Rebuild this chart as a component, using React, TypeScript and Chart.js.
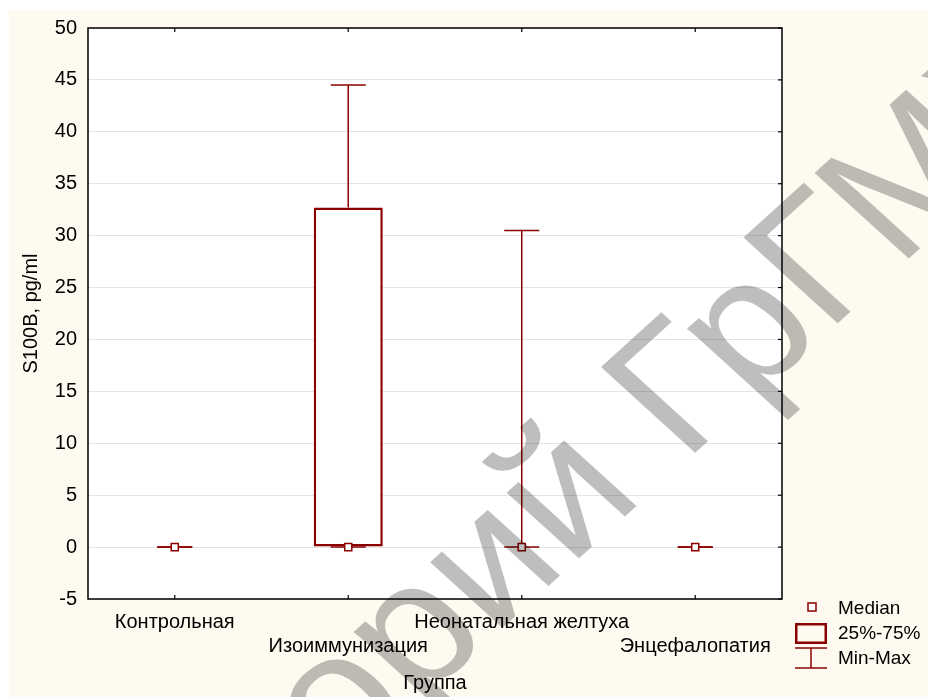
import { useEffect, useRef } from 'react';
import { Chart, registerables } from 'chart.js';

Chart.register(...registerables);

const categories = ['Контрольная', 'Изоиммунизация', 'Неонатальная желтуха', 'Энцефалопатия'];
const medians = [0, 0, 0, 0];
const q1 = [0, 0, 0, 0];
const q3 = [0, 32.7, 0, 0];
const mins = [0, 0, 0, 0];
const maxs = [0, 44.5, 30.5, 0];
const legendLabels = ['Median', '25%-75%', 'Min-Max'];
const yAxisTitle = 'S100B, pg/ml';
const xAxisTitle = 'Группа';
const watermarkHead = 'Репозиторий ';
const watermarkTail = 'ГрГМУ';

const RED = '#8B0000';
const CREAM = '#FFFAF0';
const FONT = '"Liberation Sans", Arial, sans-serif';

const W = 920;
const H = 689;

function line(ctx: CanvasRenderingContext2D, x1: number, y1: number, x2: number, y2: number) {
  ctx.beginPath();
  ctx.moveTo(x1, y1);
  ctx.lineTo(x2, y2);
  ctx.stroke();
}

const decorPlugin = {
  id: 'decor',
  beforeDraw(chart: any) {
    const { ctx, chartArea: a } = chart;
    ctx.save();
    ctx.fillStyle = '#ffffff';
    ctx.fillRect(0, 0, W, H);
    ctx.fillStyle = CREAM;
    ctx.fillRect(1, 2, W - 1, H - 2);
    ctx.fillStyle = '#ffffff';
    ctx.fillRect(a.left, a.top, a.right - a.left, a.bottom - a.top);
    ctx.restore();
  },
  beforeDatasetsDraw(chart: any) {
    const { ctx } = chart;
    const xs = chart.scales.x;
    const ys = chart.scales.y;
    const capHalf = 17.5;
    ctx.save();
    ctx.strokeStyle = RED;
    ctx.lineWidth = 1.5;
    categories.forEach((_, i) => {
      const px = xs.getPixelForValue(i);
      const yMin = ys.getPixelForValue(mins[i]);
      const yMax = ys.getPixelForValue(maxs[i]);
      const yQ1 = ys.getPixelForValue(q1[i]);
      const yQ3 = ys.getPixelForValue(q3[i]);
      if (yQ3 !== yMax) line(ctx, px, yQ3, px, yMax);
      if (yQ1 !== yMin) line(ctx, px, yMin, px, yQ1);
      line(ctx, px - capHalf, yMin, px + capHalf, yMin);
      line(ctx, px - capHalf, yMax, px + capHalf, yMax);
    });
    ctx.restore();
  },
  afterDraw(chart: any) {
    const { ctx, chartArea: a } = chart;
    const xs = chart.scales.x;
    const ys = chart.scales.y;
    ctx.save();
    // frame
    ctx.strokeStyle = '#000000';
    ctx.lineWidth = 1.5;
    ctx.strokeRect(a.left, a.top, a.right - a.left, a.bottom - a.top);
    // inner ticks
    ctx.lineWidth = 1.2;
    categories.forEach((_, i) => {
      const px = xs.getPixelForValue(i);
      line(ctx, px, a.top, px, a.top + 4);
      line(ctx, px, a.bottom, px, a.bottom - 4);
    });
    ys.ticks.forEach((t: any) => {
      const py = ys.getPixelForValue(t.value);
      line(ctx, a.right, py, a.right - 4, py);
    });

    // legend
    ctx.strokeStyle = RED;
    ctx.fillStyle = '#ffffff';
    ctx.lineWidth = 1.5;
    ctx.fillRect(800, 595, 8, 8);
    ctx.strokeRect(800, 595, 8, 8);
    ctx.lineWidth = 2.5;
    ctx.strokeRect(788.25, 616.25, 29.5, 18.5);
    ctx.lineWidth = 1.5;
    line(ctx, 787, 640, 819, 640);
    line(ctx, 787, 660, 819, 660);
    line(ctx, 803, 640, 803, 660);
    ctx.fillStyle = '#000000';
    ctx.font = `19px ${FONT}`;
    ctx.textAlign = 'left';
    ctx.textBaseline = 'middle';
    ctx.fillText(legendLabels[0], 830, 601);
    ctx.fillText(legendLabels[1], 830, 626);
    ctx.fillText(legendLabels[2], 830, 650.5);
    ctx.restore();

    // watermark
    ctx.save();
    ctx.globalCompositeOperation = 'multiply';
    ctx.fillStyle = '#BEBEBE';
    ctx.font = `176px ${FONT}`;
    ctx.translate(676, 455);
    ctx.scale(1.1, 1);
    ctx.rotate(-Math.PI / 4);
    ctx.textBaseline = 'alphabetic';
    ctx.textAlign = 'left';
    ctx.fillText(watermarkTail, 0, 0);
    ctx.textAlign = 'right';
    ctx.fillText(watermarkHead, 0, 0);
    ctx.restore();
  },
};

export default function App() {
  const ref = useRef<HTMLCanvasElement | null>(null);

  useEffect(() => {
    if (!ref.current) return;
    const boxes = categories.map((_, i) => (q1[i] === q3[i] ? null : [q1[i], q3[i]]));
    const xLabels = categories.map((c, i) => (i % 2 === 0 ? [c] : ['', c]));
    const chart = new Chart(ref.current, {
      type: 'bar',
      data: {
        labels: xLabels as any,
        datasets: [
          {
            type: 'line',
            label: 'Median',
            data: medians,
            showLine: false,
            pointStyle: 'rect',
            pointRadius: 5,
            pointBorderWidth: 1.5,
            pointBackgroundColor: '#ffffff',
            pointBorderColor: RED,
            order: 0,
          } as any,
          {
            type: 'bar',
            label: '25%-75%',
            data: boxes as any,
            backgroundColor: '#ffffff',
            borderColor: RED,
            borderWidth: 2.5,
            borderSkipped: false,
            categoryPercentage: 1,
            barPercentage: 0.398,
            order: 1,
          } as any,
        ],
      },
      options: {
        responsive: false,
        animation: false,
        layout: { padding: { top: 20, right: 146, bottom: 0, left: 0 } },
        plugins: {
          legend: { display: false },
          tooltip: { enabled: false },
        },
        scales: {
          x: {
            offset: true,
            grid: { display: false, drawTicks: false },
            border: { display: false },
            ticks: {
              color: '#000000',
              font: { family: FONT, size: 20, lineHeight: 1.2 },
              padding: 11,
              maxRotation: 0,
              minRotation: 0,
              autoSkip: false,
            },
            title: {
              display: true,
              text: xAxisTitle,
              color: '#000000',
              font: { family: FONT, size: 20, lineHeight: 1.2 },
              padding: { top: 0, bottom: 1.5 },
            },
            afterFit: (s: any) => {
              s.height = 98;
              s.paddingLeft = 0;
              s.paddingRight = 0;
            },
          },
          y: {
            min: -5,
            max: 50,
            grid: { color: '#E4E4E4', lineWidth: 1, drawTicks: false },
            border: { display: false },
            ticks: {
              stepSize: 5,
              color: '#000000',
              font: { family: FONT, size: 20 },
              padding: 11,
            },
            title: {
              display: true,
              text: yAxisTitle,
              color: '#000000',
              font: { family: FONT, size: 20, lineHeight: 1.2 },
              padding: { top: 11.4, bottom: 0 },
            },
            afterFit: (s: any) => {
              s.width = 80;
              s.paddingTop = 0;
              s.paddingBottom = 0;
            },
          },
        },
      },
      plugins: [decorPlugin],
    });
    return () => chart.destroy();
  }, []);

  return (
    <canvas
      ref={ref}
      width={W}
      height={H}
      style={{ display: 'block', position: 'fixed', left: 8, top: 8 }}
    />
  );
}
